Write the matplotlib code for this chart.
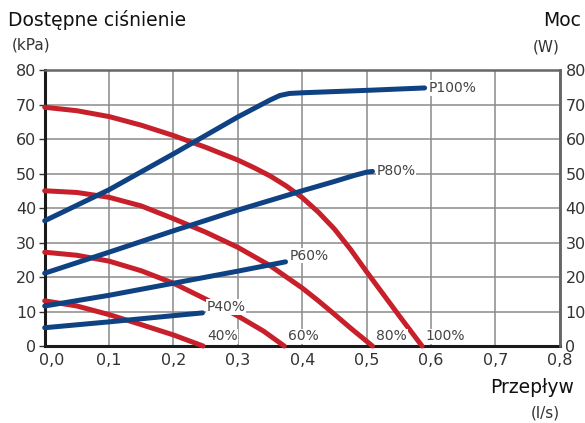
import matplotlib
matplotlib.use("Agg")
import matplotlib.pyplot as plt
import matplotlib.transforms as mtransforms

plt.rcParams['font.family'] = ['DejaVu Sans']

# Pressure curves (kPa) vs flow (l/s)
flow_100 = [0.0, 0.05, 0.1, 0.15, 0.2, 0.25, 0.3, 0.325, 0.35, 0.375, 0.4, 0.425, 0.45, 0.475, 0.5, 0.525, 0.55, 0.586]
pres_100 = [69.2, 68.2, 66.5, 64.0, 61.0, 57.6, 53.9, 51.7, 49.3, 46.4, 43.0, 38.8, 33.9, 28.0, 21.5, 15.2, 8.9, 0.0]
flow_80 = [0.0, 0.05, 0.1, 0.15, 0.2, 0.25, 0.3, 0.35, 0.4, 0.425, 0.45, 0.475, 0.509]
pres_80 = [45.0, 44.5, 43.1, 40.6, 36.9, 33.0, 28.6, 23.3, 16.8, 13.1, 9.2, 5.2, 0.0]
flow_60 = [0.0, 0.05, 0.1, 0.15, 0.2, 0.25, 0.3, 0.34, 0.372]
pres_60 = [27.2, 26.3, 24.6, 21.8, 18.2, 13.6, 8.7, 4.3, 0.0]
flow_40 = [0.0, 0.05, 0.1, 0.15, 0.2, 0.246]
pres_40 = [13.1, 11.6, 9.1, 6.2, 3.2, 0.0]

# Power curves (W) vs flow (l/s)
pflow_100 = [0.0, 0.1, 0.2, 0.3, 0.35, 0.365, 0.38, 0.4, 0.5, 0.59]
power_100 = [36.3, 45.3, 55.7, 66.4, 71.3, 72.6, 73.2, 73.4, 74.1, 74.8]
pflow_80 = [0.0, 0.1, 0.2, 0.3, 0.4, 0.45, 0.48, 0.5, 0.509]
power_80 = [21.1, 27.2, 33.4, 39.4, 45.0, 47.7, 49.4, 50.4, 50.6]
pflow_60 = [0.0, 0.1, 0.2, 0.3, 0.374]
power_60 = [11.6, 14.7, 18.2, 21.7, 24.4]
pflow_40 = [0.0, 0.1, 0.2, 0.245]
power_40 = [5.3, 7.0, 8.8, 9.6]

curve_labels = ["100%", "80%", "60%", "40%"]
power_labels = ["P100%", "P80%", "P60%", "P40%"]
x_ticks = [0.0, 0.1, 0.2, 0.3, 0.4, 0.5, 0.6, 0.7, 0.8]
x_tick_labels = ["0,0", "0,1", "0,2", "0,3", "0,4", "0,5", "0,6", "0,7", "0,8"]
y_ticks = [0, 10, 20, 30, 40, 50, 60, 70, 80]

RED = '#C8202B'
BLUE = '#0F4282'
TXT = '#333333'

fig = plt.figure(figsize=(5.85, 4.23), dpi=100)
ax = fig.add_axes([0.0764, 0.182, 0.8806, 0.6525])
ax2 = ax.twinx()

ax.set_xlim(0, 0.8)
ax.set_ylim(0, 80)
ax2.set_ylim(0, 80)

ax.set_xticks(x_ticks)
ax.set_xticklabels(x_tick_labels)
ax.set_yticks(y_ticks)
ax2.set_yticks(y_ticks)

ax.grid(True, color='#8a8a8a', linewidth=1.1)
ax.set_axisbelow(True)

for s in ['left', 'bottom']:
    ax.spines[s].set_linewidth(2.2)
    ax.spines[s].set_color('#1a1a1a')
for s in ['top', 'right']:
    ax.spines[s].set_linewidth(1.8)
    ax.spines[s].set_color('#666666')
for s in ['top', 'left', 'bottom']:
    ax2.spines[s].set_visible(False)
ax2.spines['right'].set_linewidth(1.8)
ax2.spines['right'].set_color('#666666')

ax.tick_params(axis='both', labelsize=11.5, colors=TXT, length=4, width=1)
ax.tick_params(axis='x', length=0, pad=5)
ax.tick_params(axis='y', pad=2)
ax2.tick_params(axis='y', labelsize=11.5, colors=TXT, length=0, pad=4)

# first x label sits slightly right of its tick in the reference
first = ax.get_xticklabels()[0]
first.set_transform(first.get_transform() + mtransforms.ScaledTranslation(7 / 100, 0, fig.dpi_scale_trans))

lw = 3.6
for fx, fy in [(flow_100, pres_100), (flow_80, pres_80), (flow_60, pres_60), (flow_40, pres_40)]:
    ax.plot(fx, fy, color=RED, lw=lw, solid_capstyle='round', solid_joinstyle='round', zorder=3, clip_on=False)
for fx, fy in [(pflow_100, power_100), (pflow_80, power_80), (pflow_60, power_60), (pflow_40, power_40)]:
    ax2.plot(fx, fy, color=BLUE, lw=lw, solid_capstyle='round', solid_joinstyle='round', zorder=4, clip_on=False)

# curve labels
ends = [flow_100[-1], flow_80[-1], flow_60[-1], flow_40[-1]]
for lab, xe in zip(curve_labels, ends):
    ax.text(xe + 0.006, 0.8, lab, fontsize=10, color='#444444', ha='left', va='bottom', zorder=5,
            bbox=dict(facecolor='white', edgecolor='none', pad=0.5))

pends = [(pflow_100[-1], power_100[-1]), (pflow_80[-1], power_80[-1]),
         (pflow_60[-1], power_60[-1] + 1.8), (pflow_40[-1], power_40[-1] + 1.7)]
for lab, (xe, ye) in zip(power_labels, pends):
    ax2.text(xe + 0.006, ye, lab, fontsize=10, color='#444444', ha='left', va='center', zorder=5,
             bbox=dict(facecolor='white', edgecolor='none', pad=0.5))

fig.text(8 / 585, 1 - 20 / 423, "Dostępne ciśnienie", fontsize=13.5, color='#111111', ha='left', va='center')
fig.text(12 / 585, 1 - 45 / 423, "(kPa)", fontsize=11, color=TXT, ha='left', va='center')
fig.text(543 / 585, 1 - 20 / 423, "Moc", fontsize=13.5, color='#111111', ha='left', va='center')
fig.text(560 / 585, 1 - 47 / 423, "(W)", fontsize=11, color=TXT, ha='right', va='center')
fig.text(490 / 585, 1 - 387 / 423, "Przepływ", fontsize=13.5, color='#111111', ha='left', va='center')
fig.text(560 / 585, 1 - 413 / 423, "(l/s)", fontsize=11, color=TXT, ha='right', va='center')

fig.savefig("out.png", dpi=100)
